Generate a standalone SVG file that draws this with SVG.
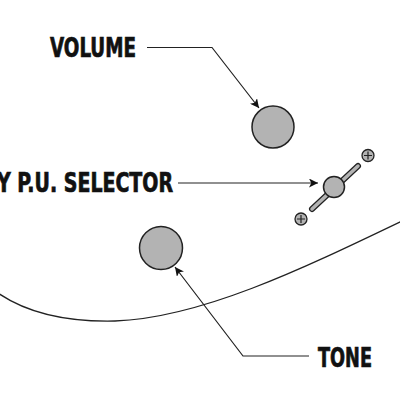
<svg xmlns="http://www.w3.org/2000/svg" width="400" height="400" viewBox="0 0 400 400">
<defs>
<marker id="ah" viewBox="0 0 10 10" refX="10" refY="5" markerWidth="9" markerHeight="9" markerUnits="userSpaceOnUse" orient="auto">
<path d="M0,0 L10,5 L0,10 L2.5,5 z" fill="#111"/>
</marker>
<style>
.lbl{font-family:"DejaVu Sans Condensed","Liberation Sans",sans-serif;font-weight:bold;font-size:26px;fill:#111;stroke:#111;stroke-width:0.7}
.knob{fill:#b3b3b3;stroke:#222;stroke-width:1.5}
.conn{fill:none;stroke:#222;stroke-width:1.2}
</style>
</defs>
<rect width="400" height="400" fill="#fff"/>
<path d="M-2,293 C30,315 70,322 115,321 C200,318 300,270 402,221" fill="none" stroke="#222" stroke-width="1.3"/>
<g id="volume">
<circle class="knob" cx="273" cy="127" r="21"/>
<text class="lbl" x="50" y="57" textLength="86" lengthAdjust="spacingAndGlyphs">VOLUME</text>
</g>
<g id="selector">
<line x1="312" y1="209" x2="358" y2="166" stroke="#222" stroke-width="6" stroke-linecap="round"/>
<line x1="312" y1="209" x2="358" y2="166" stroke="#b3b3b3" stroke-width="3.5" stroke-linecap="round"/>
<circle class="knob" cx="334" cy="187" r="10.5"/>
<g>
<circle cx="368" cy="155.5" r="6" fill="#b3b3b3" stroke="#222" stroke-width="1.3"/>
<path d="M364,155.5 H372 M368,151.5 V159.5" stroke="#222" stroke-width="1.2"/>
</g>
<g>
<circle cx="301" cy="219" r="6" fill="#b3b3b3" stroke="#222" stroke-width="1.3"/>
<path d="M297,219 H305 M301,215 V223" stroke="#222" stroke-width="1.2"/>
</g>
<text class="lbl" x="-3" y="192" textLength="176" lengthAdjust="spacingAndGlyphs">Y P.U. SELECTOR</text>
</g>
<g id="tone">
<circle class="knob" cx="161" cy="248" r="21.5"/>
<text class="lbl" x="318" y="367" textLength="54" lengthAdjust="spacingAndGlyphs">TONE</text>
</g>
<g id="connectors">
<path class="conn" d="M147,47.5 H212 L259,108" marker-end="url(#ah)"/>
<path class="conn" d="M178,183 H318" marker-end="url(#ah)"/>
<path class="conn" d="M309,356 H243 L175,267" marker-end="url(#ah)"/>
</g>
</svg>
